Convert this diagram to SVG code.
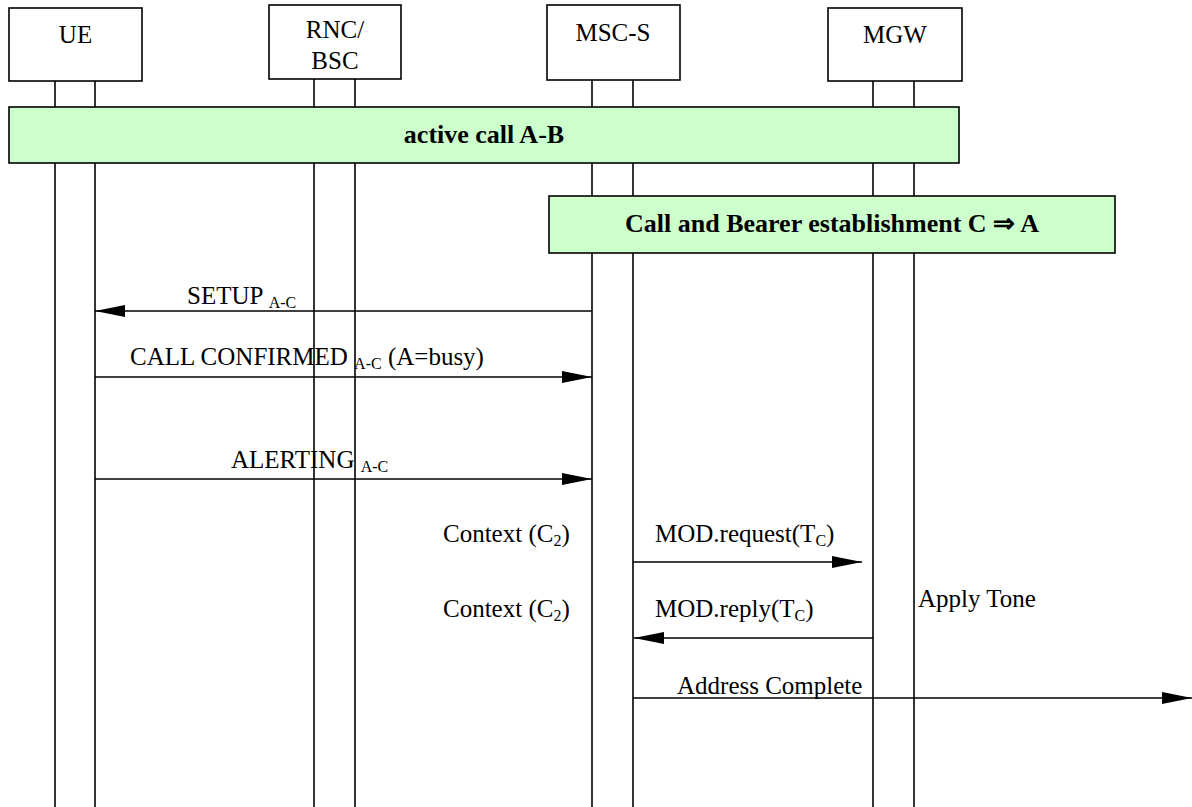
<svg xmlns="http://www.w3.org/2000/svg" width="1192" height="807" viewBox="0 0 1192 807">
<style>
.box{fill:#fff;stroke:#000;stroke-width:1.6}
.bar{fill:#ccffcc;stroke:#000;stroke-width:1.6}
.life{stroke:#000;stroke-width:1.6}
.msg{stroke:#000;stroke-width:1.6;fill:none;marker-end:url(#ah)}
text{font-family:"Liberation Serif","Times New Roman",serif;font-size:25px;fill:#000}
.b{font-weight:bold;font-size:26px}
.c{text-anchor:middle}
.sub{font-size:16px}
</style>
<defs>
<marker id="ah" markerWidth="30" markerHeight="12" refX="30" refY="6" orient="auto" markerUnits="userSpaceOnUse">
<path d="M0,0 L30,6 L0,12 z" fill="#000"/>
</marker>
</defs>
<g id="lifelines">
<line class="life" x1="55" y1="81" x2="55" y2="807"/>
<line class="life" x1="95" y1="81" x2="95" y2="807"/>
<line class="life" x1="314" y1="79" x2="314" y2="807"/>
<line class="life" x1="355" y1="79" x2="355" y2="807"/>
<line class="life" x1="592" y1="80" x2="592" y2="807"/>
<line class="life" x1="633" y1="80" x2="633" y2="807"/>
<line class="life" x1="873" y1="81" x2="873" y2="807"/>
<line class="life" x1="914" y1="81" x2="914" y2="807"/>
</g>
<g id="UE">
<rect class="box" x="9" y="8" width="133" height="73"/>
<text class="c" x="75.5" y="43">UE</text>
</g>
<g id="RNC">
<rect class="box" x="269" y="5" width="132" height="74"/>
<text class="c" x="335" y="38">RNC/</text>
<text class="c" x="335" y="69">BSC</text>
</g>
<g id="MSC-S">
<rect class="box" x="547" y="5" width="133" height="75"/>
<text class="c" x="613" y="41">MSC-S</text>
</g>
<g id="MGW">
<rect class="box" x="828" y="8" width="134" height="73"/>
<text class="c" x="895" y="43">MGW</text>
</g>
<g id="active-call">
<rect class="bar" x="9" y="107" width="950" height="56"/>
<text class="b c" x="484" y="143">active call A-B</text>
</g>
<g id="call-bearer">
<rect class="bar" x="549" y="196" width="566" height="57"/>
<text class="b c" x="832" y="232">Call and Bearer establishment C ⇒ A</text>
</g>
<g id="connectors">
<line class="msg" x1="592" y1="311" x2="95" y2="311"/>
<line class="msg" x1="95" y1="377" x2="592" y2="377"/>
<line class="msg" x1="95" y1="479" x2="592" y2="479"/>
<line class="msg" x1="633" y1="562" x2="862" y2="562"/>
<line class="msg" x1="873" y1="638" x2="634" y2="638"/>
<line class="msg" x1="633" y1="698" x2="1192" y2="698"/>
</g>
<g id="labels">
<text x="187" y="304">SETUP <tspan class="sub" dy="4">A-C</tspan></text>
<text x="130" y="365">CALL CONFIRMED <tspan class="sub" dy="4">A-C</tspan><tspan dy="-4"> (A=busy)</tspan></text>
<text x="231" y="468">ALERTING <tspan class="sub" dy="4">A-C</tspan></text>
<text x="443" y="542">Context (C<tspan class="sub" dy="4">2</tspan><tspan dy="-4">)</tspan></text>
<text x="655" y="542">MOD.request(T<tspan class="sub" dy="4">C</tspan><tspan dy="-4">)</tspan></text>
<text x="443" y="617">Context (C<tspan class="sub" dy="4">2</tspan><tspan dy="-4">)</tspan></text>
<text x="655" y="617">MOD.reply(T<tspan class="sub" dy="4">C</tspan><tspan dy="-4">)</tspan></text>
<text x="918" y="607">Apply Tone</text>
<text x="677" y="694">Address Complete</text>
</g>
</svg>
